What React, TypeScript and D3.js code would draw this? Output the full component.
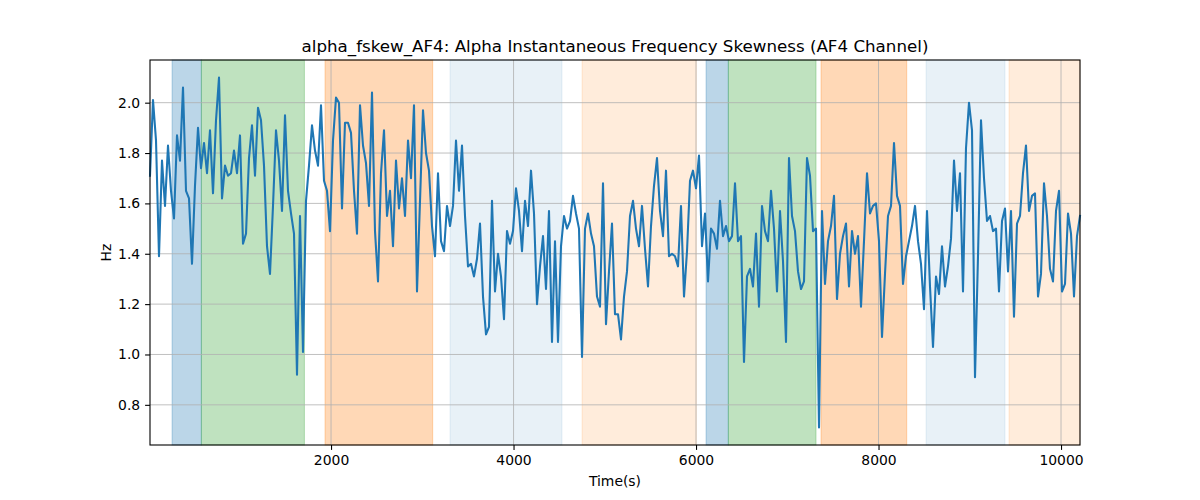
import { useEffect, useRef } from 'react'
import * as d3 from 'd3'

// sampled alpha fskew values (Hz), one every ~33 s starting at t=16 s
const seg1 = [1.71, 2.01, 1.85, 1.39, 1.77, 1.59, 1.83, 1.65, 1.54, 1.87, 1.77, 2.06, 1.65, 1.62, 1.36, 1.67, 1.90, 1.74, 1.84, 1.72, 1.89, 1.64, 1.93, 2.10, 1.62, 1.75, 1.71, 1.72, 1.81, 1.72, 1.87, 1.44, 1.48, 1.78, 1.91, 1.71, 1.98, 1.93, 1.75, 1.43]
const seg2 = [1.32, 1.59, 1.89, 1.77, 1.57, 1.95, 1.65, 1.56, 1.48, 0.92, 1.55, 1.01, 1.61, 1.75, 1.91, 1.81, 1.75, 1.99, 1.69, 1.65, 1.49, 1.85, 2.02, 2.00, 1.58, 1.92, 1.92, 1.88, 1.65, 1.48, 1.99, 1.83, 1.76, 1.59, 2.04, 1.49, 1.29, 1.72, 1.89, 1.55]
const seg3 = [1.65, 1.43, 1.77, 1.58, 1.70, 1.55, 1.85, 1.70, 1.99, 1.25, 1.61, 1.97, 1.80, 1.73, 1.51, 1.39, 1.72, 1.45, 1.41, 1.59, 1.51, 1.59, 1.85, 1.65, 1.83, 1.55, 1.35, 1.36, 1.31, 1.38, 1.52, 1.23, 1.08, 1.11, 1.61, 1.25, 1.40, 1.31, 1.14, 1.49]
const seg4 = [1.44, 1.49, 1.66, 1.57, 1.41, 1.61, 1.51, 1.73, 1.56, 1.20, 1.35, 1.47, 1.26, 1.57, 1.05, 1.45, 1.05, 1.43, 1.55, 1.50, 1.53, 1.63, 1.56, 1.50, 0.99, 1.50, 1.56, 1.48, 1.43, 1.23, 1.19, 1.68, 1.12, 1.33, 1.52, 1.16, 1.16, 1.06, 1.23, 1.33]
const seg5 = [1.55, 1.61, 1.50, 1.43, 1.59, 1.42, 1.27, 1.51, 1.67, 1.78, 1.57, 1.47, 1.73, 1.39, 1.40, 1.39, 1.35, 1.59, 1.23, 1.41, 1.69, 1.73, 1.66, 1.79, 1.43, 1.56, 1.29, 1.50, 1.48, 1.42, 1.61, 1.47, 1.51, 1.45, 1.47, 1.68, 1.45, 1.47, 0.97, 1.31]
const seg6 = [1.34, 1.27, 1.48, 1.19, 1.59, 1.49, 1.45, 1.65, 1.50, 1.25, 1.57, 1.37, 1.05, 1.78, 1.55, 1.49, 1.33, 1.26, 1.29, 1.78, 1.71, 1.49, 1.50, 0.71, 1.57, 1.28, 1.45, 1.51, 1.63, 1.22, 1.40, 1.47, 1.52, 1.27, 1.49, 1.40, 1.47, 1.19, 1.45, 1.72]
const seg7 = [1.56, 1.59, 1.60, 1.45, 1.07, 1.32, 1.55, 1.59, 1.84, 1.63, 1.59, 1.28, 1.39, 1.45, 1.51, 1.59, 1.45, 1.36, 1.18, 1.57, 1.27, 1.03, 1.31, 1.24, 1.43, 1.27, 1.35, 1.46, 1.77, 1.57, 1.72, 1.25, 1.82, 2.00, 1.89, 0.91, 1.39, 1.93, 1.70, 1.53]
const seg8 = [1.55, 1.49, 1.50, 1.25, 1.53, 1.58, 1.33, 1.57, 1.15, 1.52, 1.55, 1.72, 1.83, 1.57, 1.63, 1.64, 1.23, 1.32, 1.68, 1.55, 1.34, 1.29, 1.57, 1.65, 1.25, 1.28, 1.56, 1.48, 1.23, 1.47, 1.55]

const values = [...seg1, ...seg2, ...seg3, ...seg4, ...seg5, ...seg6, ...seg7, ...seg8]
const tStart = 16
const tEnd = 10208

// shaded task blocks
const spanStarts = [258, 579, 1934, 3304, 4751, 6110, 6354, 7370, 8521, 9430]
const spanEnds = [579, 1708, 3114, 4531, 6003, 6354, 7315, 8309, 9386, 10208]
const spanColors = ['#1f77b4', '#2ca02c', '#ff7f0e', '#1f77b4', '#ff7f0e', '#1f77b4', '#2ca02c', '#ff7f0e', '#1f77b4', '#ff7f0e']
const spanAlphas = [0.3, 0.3, 0.3, 0.1, 0.15, 0.3, 0.3, 0.3, 0.1, 0.15]

const xTicks = [2000, 4000, 6000, 8000, 10000]
const yTicks = [0.8, 1.0, 1.2, 1.4, 1.6, 1.8, 2.0]

export default function App() {
  const svgRef = useRef<SVGSVGElement>(null)
  const width = 1200
  const height = 500

  useEffect(() => {
    if (!svgRef.current) return
    d3.select(svgRef.current).selectAll('*').remove()

    const margin = { top: 60, right: 120, bottom: 55, left: 150 }
    const innerWidth = width - margin.left - margin.right
    const innerHeight = height - margin.top - margin.bottom

    const dt = (tEnd - tStart) / (values.length - 1)
    const data = values.map((v, i) => ({ t: tStart + i * dt, v }))

    const svg = d3.select(svgRef.current)
      .attr('width', width)
      .attr('height', height)
      .style('font-family', 'DejaVu Sans, sans-serif')

    svg.append('rect').attr('width', width).attr('height', height).attr('fill', 'white')

    const g = svg.append('g').attr('transform', `translate(${margin.left},${margin.top})`)

    const vMin = d3.min(values) || 0
    const vMax = d3.max(values) || 0
    const pad = (vMax - vMin) * 0.05

    const x = d3.scaleLinear().domain([tStart, tEnd]).range([0, innerWidth])
    const y = d3.scaleLinear().domain([vMin - pad, vMax + pad]).range([innerHeight, 0])

    // spans
    g.selectAll('.span')
      .data(spanStarts.map((s, i) => ({ s, e: spanEnds[i], c: spanColors[i], a: spanAlphas[i] })))
      .enter().append('rect')
      .attr('x', d => x(d.s))
      .attr('y', 0)
      .attr('width', d => x(d.e) - x(d.s))
      .attr('height', innerHeight)
      .attr('fill', d => d.c)
      .attr('fill-opacity', d => d.a)
      .attr('stroke', d => d.c)
      .attr('stroke-opacity', d => d.a)
      .attr('stroke-width', 1)

    // grid
    g.selectAll('.gx')
      .data(xTicks)
      .enter().append('line')
      .attr('x1', d => x(d)).attr('x2', d => x(d))
      .attr('y1', 0).attr('y2', innerHeight)
      .attr('stroke', '#b0b0b0').attr('stroke-width', 0.8)
    g.selectAll('.gy')
      .data(yTicks)
      .enter().append('line')
      .attr('x1', 0).attr('x2', innerWidth)
      .attr('y1', d => y(d)).attr('y2', d => y(d))
      .attr('stroke', '#b0b0b0').attr('stroke-width', 0.8)

    // series
    const line = d3.line<{ t: number; v: number }>().x(d => x(d.t)).y(d => y(d.v))
    g.append('path')
      .datum(data)
      .attr('d', line)
      .attr('fill', 'none')
      .attr('stroke', '#1f77b4')
      .attr('stroke-width', 2.08)
      .attr('stroke-linejoin', 'round')
      .attr('stroke-linecap', 'square')

    // frame
    g.append('rect')
      .attr('width', innerWidth).attr('height', innerHeight)
      .attr('fill', 'none').attr('stroke', 'black').attr('stroke-width', 1.1)

    // axes
    const xAxis = g.append('g')
      .attr('transform', `translate(0,${innerHeight})`)
      .call(d3.axisBottom(x).tickValues(xTicks).tickSize(4.9).tickPadding(4.9).tickFormat(d => String(d)))
    const yAxis = g.append('g')
      .call(d3.axisLeft(y).tickValues(yTicks).tickSize(4.9).tickPadding(4.9).tickFormat(d3.format('.1f')))
    ;[xAxis, yAxis].forEach(a => {
      a.select('.domain').remove()
      a.selectAll('line').attr('stroke', 'black').attr('stroke-width', 1.1)
      a.selectAll('text').attr('fill', 'black').style('font-size', '13.9px').style('font-family', 'DejaVu Sans, sans-serif')
    })

    // labels
    svg.append('text')
      .attr('x', margin.left + innerWidth / 2)
      .attr('y', 52)
      .attr('text-anchor', 'middle')
      .style('font-size', '16.7px')
      .text('alpha_fskew_AF4: Alpha Instantaneous Frequency Skewness (AF4 Channel)')

    svg.append('text')
      .attr('x', margin.left + innerWidth / 2)
      .attr('y', 486)
      .attr('text-anchor', 'middle')
      .style('font-size', '13.9px')
      .text('Time(s)')

    svg.append('text')
      .attr('transform', `translate(111,${margin.top + innerHeight / 2}) rotate(-90)`)
      .attr('text-anchor', 'middle')
      .style('font-size', '13.9px')
      .text('Hz')
  }, [])

  return (
    <div style={{ position: 'absolute', left: 0, top: 0 }}>
      <svg ref={svgRef} />
    </div>
  )
}
